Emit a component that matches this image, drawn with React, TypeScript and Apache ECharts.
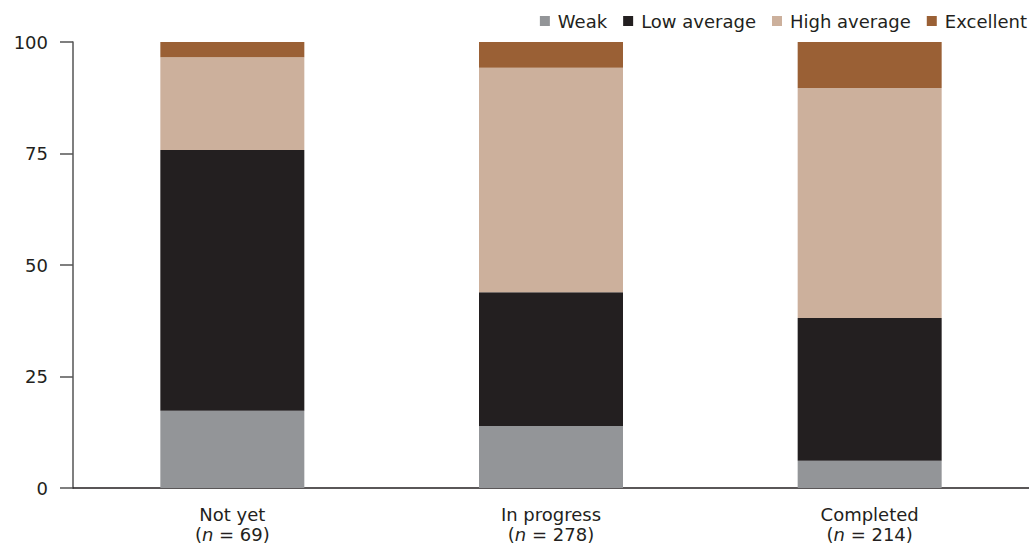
import React, { useEffect, useRef } from "react";
import * as echarts from "echarts";

const categories = ["Not yet", "In progress", "Completed"];
const sampleSizes = [69, 278, 214];
const weak = [17.3, 13.9, 6.1];
const lowAverage = [58.5, 30.0, 32.0];
const highAverage = [20.8, 50.3, 51.6];
const excellent = [3.4, 5.8, 10.3];
const yTicks = [0, 25, 50, 75, 100];

const seriesDefs = [
  { name: "Weak", data: weak, color: "#939598" },
  { name: "Low average", data: lowAverage, color: "#231f20" },
  { name: "High average", data: highAverage, color: "#ccb09c" },
  { name: "Excellent", data: excellent, color: "#9a6035" },
];

const FONT = "'DejaVu Sans', Verdana, sans-serif";

export default function App() {
  const ref = useRef<HTMLDivElement>(null);
  useEffect(() => {
    if (!ref.current) return;
    const chart = echarts.init(ref.current, null, { renderer: "svg" });
    chart.setOption({
      animation: false,
      textStyle: { fontFamily: FONT },
      legend: {
        top: 11,
        right: 2,
        padding: 0,
        itemWidth: 10,
        itemHeight: 10,
        itemGap: 16,
        icon: "rect",
        textStyle: {
          fontSize: 18,
          lineHeight: 20,
          color: "#231f20",
          fontFamily: FONT,
          padding: [0, 0, 0, 3],
        },
        data: seriesDefs.map((s) => s.name),
      },
      grid: { left: 73, right: 0, top: 42, bottom: 57 },
      xAxis: {
        type: "category",
        data: categories,
        axisLine: { lineStyle: { color: "#231f20", width: 1.5 } },
        axisTick: { show: false },
        axisLabel: {
          margin: 16,
          interval: 0,
          formatter: (v: string, i: number) =>
            `{a|${v}}\n{a|(}{i|n}{a| = ${sampleSizes[i]})}`,
          rich: {
            a: { fontSize: 18, color: "#231f20", fontFamily: FONT, lineHeight: 20 },
            i: {
              fontSize: 18,
              color: "#231f20",
              fontFamily: FONT,
              fontStyle: "italic",
              lineHeight: 20,
            },
          },
        },
      },
      yAxis: {
        type: "value",
        min: yTicks[0],
        max: yTicks[yTicks.length - 1],
        interval: 25,
        axisLine: { show: true, lineStyle: { color: "#555", width: 1.5 } },
        axisTick: { show: true, length: 13, lineStyle: { color: "#555", width: 1.5 } },
        splitLine: { show: false },
        axisLabel: { fontSize: 18, color: "#231f20", fontFamily: FONT, margin: 25 },
      },
      series: seriesDefs.map((s) => ({
        name: s.name,
        type: "bar",
        stack: "total",
        barWidth: 144,
        data: s.data,
        itemStyle: { color: s.color },
      })),
    });
    return () => chart.dispose();
  }, []);
  return (
    <div
      ref={ref}
      style={{ position: "fixed", left: 0, top: 0, width: 1029, height: 545, background: "#fff" }}
    />
  );
}
